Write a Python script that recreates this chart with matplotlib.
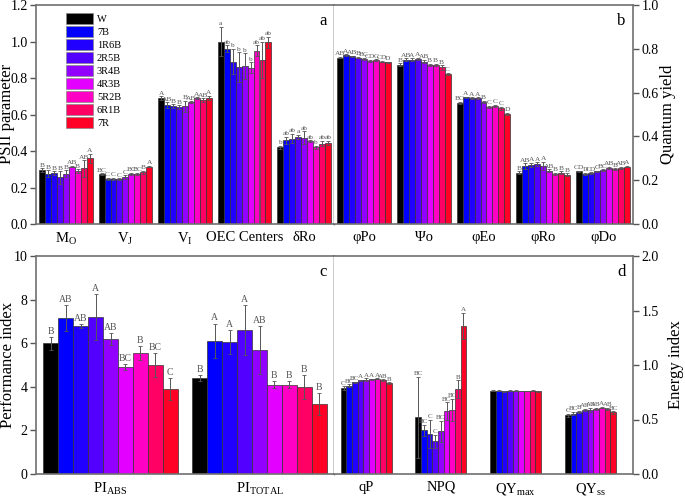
import matplotlib
matplotlib.use("Agg")
import matplotlib.pyplot as plt
import numpy as np
from matplotlib.patches import Patch

plt.rcParams['font.family'] = ['Liberation Serif', 'DejaVu Serif']
plt.rcParams['mathtext.fontset'] = 'custom'
plt.rcParams['mathtext.rm'] = 'Liberation Serif'
plt.rcParams['mathtext.it'] = 'Liberation Serif'

treatments = ['W', '7B', '1R6B', '2R5B', '3R4B', '4R3B', '5R2B', '6R1B', '7R']
colors = ['#000000', '#0000FF', '#2200FF', '#5200FF', '#9200FF', '#E400FF', '#FF00C4', '#FF0064', '#FF0026']

# Panel a
a_cats = [r'M$_\mathrm{O}$', r'V$_\mathrm{J}$', r'V$_\mathrm{I}$', 'OEC Centers', 'δRo']
a_vals = [
    [0.295, 0.275, 0.28, 0.255, 0.275, 0.315, 0.29, 0.305, 0.36],
    [0.272, 0.248, 0.248, 0.245, 0.258, 0.275, 0.275, 0.283, 0.315],
    [0.69, 0.652, 0.645, 0.64, 0.645, 0.668, 0.69, 0.68, 0.692],
    [1.0, 0.96, 0.89, 0.86, 0.865, 0.855, 0.95, 0.90, 0.995],
    [0.42, 0.458, 0.468, 0.478, 0.473, 0.455, 0.42, 0.44, 0.445],
]
a_errs = [
    [0.01, 0.02, 0.01, 0.035, 0.02, 0.005, 0.01, 0.045, 0.025],
    [0.005, 0.005, 0.005, 0.005, 0.01, 0.005, 0.005, 0.01, 0.005],
    [0.01, 0.015, 0.01, 0.01, 0.03, 0.005, 0.005, 0.01, 0.01],
    [0.08, 0.02, 0.07, 0.08, 0.07, 0.03, 0.03, 0.1, 0.03],
    [0.01, 0.02, 0.025, 0.01, 0.035, 0.005, 0.01, 0.015, 0.01],
]
a_lbls = [
    ['B', 'B', 'B', 'B', 'B', 'AB', 'B', 'AB', 'A'],
    ['BC', 'C', 'C', 'C', 'C', 'BC', 'BC', 'B', 'A'],
    ['A', 'AB', 'B', 'B', 'B', 'AB', 'A', 'AB', 'A'],
    ['a', 'ab', 'b', 'b', 'b', 'b', 'ab', 'ab', 'ab'],
    ['b', 'ab', 'ab', 'a', 'ab', 'ab', 'b', 'ab', 'ab'],
]

# Panel b
b_cats = ['φPo', 'Ψo', 'φEo', 'φRo', 'φDo']
b_vals = [
    [0.76, 0.77, 0.765, 0.76, 0.755, 0.745, 0.748, 0.742, 0.738],
    [0.728, 0.75, 0.75, 0.754, 0.742, 0.727, 0.727, 0.715, 0.685],
    [0.553, 0.578, 0.575, 0.574, 0.557, 0.535, 0.54, 0.528, 0.502],
    [0.235, 0.265, 0.27, 0.273, 0.265, 0.243, 0.23, 0.235, 0.225],
    [0.24, 0.23, 0.232, 0.24, 0.245, 0.255, 0.25, 0.257, 0.262],
]
b_errs = [
    [0.004, 0.004, 0.004, 0.004, 0.004, 0.006, 0.004, 0.004, 0.003],
    [0.005, 0.006, 0.006, 0.005, 0.008, 0.004, 0.004, 0.01, 0.005],
    [0.005, 0.004, 0.004, 0.004, 0.006, 0.004, 0.004, 0.006, 0.005],
    [0.006, 0.012, 0.008, 0.008, 0.02, 0.006, 0.004, 0.006, 0.006],
    [0.004, 0.004, 0.004, 0.004, 0.004, 0.006, 0.004, 0.004, 0.004],
]
b_lbls = [
    ['AB', 'A', 'AB', 'B', 'BC', 'CD', 'C', 'CD', 'D'],
    ['B', 'AB', 'A', 'A', 'AB', 'B', 'B', 'B', 'C'],
    ['BC', 'A', 'A', 'A', 'B', 'C', 'C', 'C', 'D'],
    ['B', 'AB', 'A', 'A', 'A', 'AB', 'B', 'B', 'B'],
    ['CD', 'D', 'CD', 'C', 'BC', 'AB', 'B', 'AB', 'A'],
]

# Panel c
c_cats = [r'PI$_\mathrm{ABS}$', r'PI$_\mathrm{TOTAL}$']
c_vals = [
    [6.0, 7.15, 6.8, 7.2, 6.2, 4.9, 5.55, 5.0, 3.9],
    [4.4, 6.1, 6.05, 6.6, 5.7, 4.1, 4.1, 4.0, 3.2],
]
c_errs = [
    [0.3, 0.6, 0.08, 1.05, 0.28, 0.15, 0.3, 0.55, 0.5],
    [0.15, 0.8, 0.55, 1.15, 1.1, 0.15, 0.15, 0.55, 0.5],
]
c_lbls = [
    ['B', 'AB', 'AB', 'A', 'AB', 'BC', 'B', 'BC', 'C'],
    ['B', 'A', 'A', 'A', 'AB', 'B', 'B', 'B', 'B'],
]

# Panel d
d_cats = ['qP', 'NPQ', r'QY$_\mathrm{max}$', r'QY$_\mathrm{ss}$']
d_vals = [
    [0.79, 0.81, 0.84, 0.86, 0.865, 0.87, 0.875, 0.86, 0.835],
    [0.52, 0.40, 0.37, 0.30, 0.39, 0.58, 0.59, 0.78, 1.36],
    [0.765, 0.765, 0.76, 0.765, 0.765, 0.762, 0.762, 0.765, 0.758],
    [0.54, 0.555, 0.57, 0.59, 0.59, 0.60, 0.61, 0.60, 0.565],
]
d_errs = [
    [0.015, 0.015, 0.005, 0.005, 0.015, 0.005, 0.005, 0.01, 0.005],
    [0.37, 0.05, 0.13, 0.06, 0.1, 0.08, 0.1, 0.08, 0.12],
    [0.004, 0.004, 0.006, 0.004, 0.004, 0.004, 0.004, 0.004, 0.004],
    [0.015, 0.015, 0.01, 0.01, 0.02, 0.01, 0.005, 0.01, 0.01],
]
d_lbls = [
    ['C', 'BC', 'BC', 'A', 'A', 'A', 'A', 'AB', 'B'],
    ['BC', 'BC', 'C', 'C', 'BC', 'BC', 'BC', 'B', 'A'],
    None,
    ['C', 'BC', 'B', 'AB', 'AB', 'AB', 'A', 'AB', 'BC'],
]

fig = plt.figure(figsize=(6.85, 4.97), dpi=100)
W, H = 685, 497
def rect(x0, y0, x1, y1):
    return [x0 / W, 1 - y1 / H, (x1 - x0) / W, (y1 - y0) / H]

axa = fig.add_axes(rect(36, 5, 334, 224))
axb = fig.add_axes(rect(334, 5, 633, 224))
axc = fig.add_axes(rect(36, 256, 334, 474))
axd = fig.add_axes(rect(334, 256, 633, 474))

def draw(ax, cats, vals, errs, lbls, ylim, group_w, lblsize, lbloff, xlim):
    n = len(treatments)
    bw = group_w / n
    for gi, (v, e) in enumerate(zip(vals, errs)):
        xs = gi - group_w / 2 + bw / 2 + np.arange(n) * bw
        ax.bar(xs, v, width=bw, color=colors, edgecolor='#333333', linewidth=0.5, zorder=2)
        ax.errorbar(xs, v, yerr=e, fmt='none', ecolor='#555555', elinewidth=0.7,
                    capsize=1.2, capthick=0.6, zorder=3)
        if lbls[gi] is not None:
            for x, y, er, t in zip(xs, v, e, lbls[gi]):
                ax.text(x, y + er + lbloff, t, ha='center', va='bottom',
                        fontsize=lblsize, color='#555555', zorder=4)
    ax.set_xticks(range(len(cats)))
    ax.set_xticklabels(cats, fontsize=10.5)
    ax.set_ylim(*ylim)
    ax.set_xlim(*xlim)
    ax.tick_params(axis='x', length=0, pad=5)
    for s in ax.spines.values():
        s.set_color('#707070')
        s.set_linewidth(1.2)

draw(axa, a_cats, a_vals, a_errs, a_lbls, (0, 1.2), 0.9, 5.3, 0.003, (-0.5, 4.5))
draw(axb, b_cats, b_vals, b_errs, b_lbls, (0, 1.0), 0.9, 5.3, 0.003, (-0.5, 4.5))
draw(axc, c_cats, c_vals, c_errs, c_lbls, (0, 10), 0.9, 7, 0.05, (-0.5, 1.5))
draw(axd, d_cats, d_vals, d_errs, d_lbls, (0, 2.0), 0.68, 5, 0.005, (-0.43, 3.57))

axa.set_yticks(np.arange(0, 1.21, 0.2))
axa.set_yticklabels([f'{t:.1f}' for t in np.arange(0, 1.21, 0.2)])
axb.yaxis.tick_right()
axb.set_yticks(np.arange(0, 1.01, 0.2))
axb.set_yticklabels([f'{t:.1f}' for t in np.arange(0, 1.01, 0.2)])
axc.set_yticks(np.arange(0, 11, 2))
axd.yaxis.tick_right()
axd.set_yticks(np.arange(0, 2.01, 0.5))
axd.set_yticklabels([f'{t:.1f}' for t in np.arange(0, 2.01, 0.5)])

# axis titles placed in figure pixels
for txt, px, py in (('PSII parameter', 7, 114), ('Quantum yield', 668, 114),
                    ('Performance index', 8, 365), ('Energy index', 676, 365)):
    fig.text(px / W, 1 - py / H, txt, rotation=90, ha='center', va='center', fontsize=12)

for ax in (axa, axb, axc, axd):
    ax.tick_params(axis='y', labelsize=10, direction='out', length=4, width=1, color='#555555', pad=2)

for ax in (axa, axc):
    ax.spines['right'].set_color('black')
    ax.spines['right'].set_linewidth(1.0)
for ax in (axb, axd):
    ax.spines['left'].set_visible(False)

for ax, t in ((axa, 'a'), (axb, 'b'), (axc, 'c'), (axd, 'd')):
    ax.text(0.975, 0.965, t, transform=ax.transAxes, ha='right', va='top', fontsize=12)

handles = [Patch(facecolor=c, edgecolor='#888888', linewidth=0.5) for c in colors]
axa.legend(handles, treatments, loc='upper left', bbox_to_anchor=(0.075, 0.995), frameon=False,
           fontsize=7.5, handlelength=2.6, handleheight=1.15, labelspacing=0.22, handletextpad=0.4,
           borderpad=0.2)

fig.savefig('out.png', dpi=100)
